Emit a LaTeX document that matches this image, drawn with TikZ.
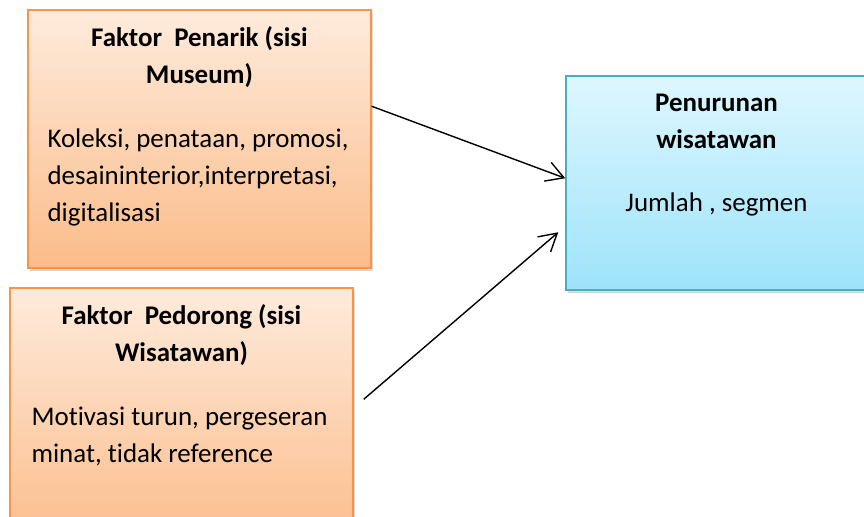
\documentclass[tikz,border=0pt]{standalone}
\usepackage{fontspec}
\setmainfont{Carlito}[Ligatures=NoCommon]
\usetikzlibrary{calc,positioning,shadows,arrows.meta}
\tikzset{
  box/.style={
    rectangle,
    inner sep=0pt,
    line width=1.1pt,
    drop shadow={opacity=0.3, shadow xshift=1.5pt, shadow yshift=-2.5pt}
  },
  box-orange/.style={
    box,
    draw=boxorange,
    top color=orangetop,
    bottom color=orangebottom
  },
  box-blue/.style={
    box,
    draw=boxblue,
    top color=bluetop,
    bottom color=bluebottom
  },
  head/.style={font=\bfseries\fontsize{20.2}{27.5}\selectfont, align=center, inner sep=0pt},
  body/.style={font=\fontsize{20.2}{27.75}\selectfont, align=left, inner sep=0pt},
  link/.style={line width=1.05pt, -{Straight Barb[length=13pt,width=15pt]}}
}
\definecolor{boxorange}{RGB}{247,150,70}
\definecolor{orangetop}{RGB}{254,235,220}
\definecolor{orangebottom}{RGB}{251,188,138}
\definecolor{boxblue}{RGB}{75,172,198}
\definecolor{bluetop}{RGB}{222,247,254}
\definecolor{bluebottom}{RGB}{158,227,250}

\begin{document}
\begin{tikzpicture}[x=0.75pt,y=-0.75pt]
  \useasboundingbox (0,0) rectangle (864,517);
  \clip (0,0) rectangle (864,517);

  % --- The Boxes ---
  \node[box-orange, minimum width=257.25pt, minimum height=193.5pt] (pull) at (199.5,139) {};
  \node[box-orange, minimum width=257.25pt, minimum height=193.5pt] (push) at (181.5,417) {};
  \node[box-blue, minimum width=225.75pt, minimum height=160.5pt] (drop) at (716.5,183) {};

  % --- The Texts ---
  % (base of a text with several lines = base of its last line)
  % Faktor Penarik
  \node[head, anchor=base] (pull-head) at ($(pull.north)+(0,74)$) {Faktor\ \ Penarik (sisi\\Museum)};
  \node[body, anchor=base west] (pull-body) at ($(pull.north west)+(20,212)$)
    {Koleksi, penataan, promosi,\\desaininterior,interpretasi,\\digitalisasi};

  % Faktor Pedorong
  \node[head, anchor=base] (push-head) at ($(push.north)+(0,74)$) {Faktor\ \ Pedorong (sisi\\Wisatawan)};
  \node[body, anchor=base west] (push-body) at ($(push.north west)+(22,175)$)
    {Motivasi turun, pergeseran\\minat, tidak reference};

  % Penurunan wisatawan
  \node[head, anchor=base] (drop-head) at ($(drop.north)+(0,73)$) {Penurunan\\wisatawan};
  \node[body, anchor=base] (drop-body) at ($(drop.north)+(0,136)$) {Jumlah , segmen};

  % --- The Arrows ---
  \coordinate (pull-out) at ($(pull.north east)+(0,97)$);
  \coordinate (push-out) at ($(push.north east)+(10,112)$);
  \coordinate (drop-in-a) at ($(drop.north west)+(0,103)$);
  \coordinate (drop-in-b) at ($(drop.north west)+(-7,157)$);
  \draw[link] (pull-out) -- (drop-in-a);
  \draw[link] (push-out) -- (drop-in-b);
\end{tikzpicture}
\end{document}
